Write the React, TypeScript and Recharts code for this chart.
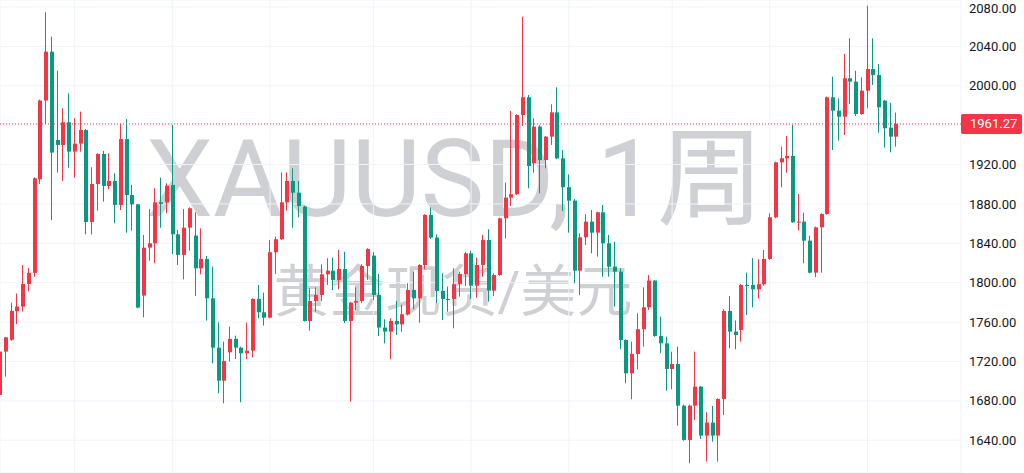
import React from 'react';
import { ComposedChart, Bar, XAxis, YAxis, CartesianGrid, ReferenceLine } from 'recharts';

// weekly XAUUSD candles (red = up, green = down)
const opens = [
  1686, 1730, 1742, 1771, 1775.7, 1798.7, 1810, 1905, 1985, 2034.6,
  1944.9, 1939.9, 1962.9, 1933.1, 1941.2, 1955.1, 1861.7, 1900.2, 1930.7, 1898.2,
  1903.3, 1879, 1945.9, 1889, 1879.6, 1786.9, 1835.6, 1840, 1881.6, 1881.6,
  1899.2, 1849.1, 1828.2, 1855.9, 1847.8, 1814.6, 1824.1, 1784.1, 1734, 1700.5,
  1729.3, 1742.9, 1734, 1728.3, 1731, 1783.5, 1769.9, 1764.5, 1830.9, 1844.1,
  1881.6, 1903.3, 1891.4, 1877.2, 1761.1, 1781.4, 1787.5, 1808.5, 1812.2, 1802.8,
  1813.9, 1761.1, 1779.7, 1781.4, 1817, 1827.5, 1787.5, 1754.4, 1750.3, 1761.1,
  1757.7, 1767.9, 1792.6, 1784.1, 1818, 1868.8, 1845.8, 1791.6, 1783.5, 1783.5,
  1798.4, 1808.8, 1829.8, 1797, 1818, 1843.4, 1791.9, 1807.8, 1865.4, 1886.4,
  1889.8, 1970.3, 1988.3, 1921.2, 1958.5, 1924.6, 1948.3, 1973, 1926.3, 1897,
  1883.3, 1812.2, 1846.1, 1862, 1850.8, 1871.5, 1840, 1816.3, 1811.2, 1741.8,
  1708, 1727.6, 1752.7, 1775, 1802.1, 1745.9, 1738.4, 1712.4, 1717.4, 1675.1,
  1640.3, 1675.1, 1694.4, 1644.7, 1657.9, 1644.7, 1681.9, 1771.3, 1750.3, 1752,
  1797.7, 1797.7, 1793.3, 1798.4, 1824.1, 1866.4, 1922.2, 1926.3, 1928.7, 1861.3,
  1862, 1842.7, 1810.2, 1856.2, 1869.8, 1988.3, 1974.7, 1968.6, 2007.6, 2004.2,
  1971.3, 1995, 2017, 2010.9, 1984.9, 1957.5, 1948.3,
];
const highs = [
  1732, 1745, 1779.7, 1789, 1818, 1815, 1907, 1986, 2074.6, 2049.9,
  2015.3, 1977.1, 1992.3, 1966.9, 1973.7, 1956, 1917.2, 1931.5, 1933.8, 1931.4,
  1911.1, 1961.2, 1966.2, 1899.2, 1880, 1848.5, 1874.9, 1895.8, 1906.7, 1900.9,
  1960.2, 1853.5, 1874.9, 1876.5, 1871.5, 1855.2, 1827.1, 1816.3, 1759.8, 1740.1,
  1755.4, 1746.2, 1735, 1759.4, 1784, 1797.7, 1789.9, 1843.4, 1846.8, 1912.1,
  1912.1, 1916.2, 1903.3, 1878, 1794.3, 1795.3, 1818.7, 1824.8, 1825.4, 1833.2,
  1831.5, 1780.5, 1795.3, 1818.7, 1835, 1830.9, 1808.8, 1762.8, 1763.8, 1781.4,
  1777.4, 1799.4, 1811.2, 1818.8, 1869.5, 1876.5, 1849.1, 1809.5, 1796, 1814.6,
  1811.2, 1830.9, 1832.5, 1825.4, 1848.5, 1854.2, 1809.5, 1866, 1901.6, 1974.4,
  1971, 2070.2, 1990.6, 1966.9, 1960.2, 1949, 1981.2, 1998.4, 1934.8, 1910,
  1885, 1850.2, 1869.5, 1873.8, 1872, 1878.9, 1848.5, 1841.7, 1814.6, 1742.5,
  1740.1, 1768.9, 1795.3, 1807.8, 1802.8, 1765.5, 1745.2, 1730, 1735.1, 1676,
  1676, 1730, 1695, 1668.4, 1674.8, 1682.6, 1773, 1786.5, 1761.5, 1798.5,
  1810.2, 1824.8, 1823.7, 1833.2, 1870.5, 1922.9, 1938.2, 1949, 1960.2, 1890.1,
  1871.1, 1847.8, 1856.9, 1870.5, 1989, 2009.2, 1987.2, 2032.3, 2048.2, 2015.3,
  2008.6, 2081.3, 2048.2, 2022.1, 1985.5, 1982.8, 1972.7,
];
const lows = [
  1685, 1704.6, 1741, 1758, 1770.6, 1791, 1806, 1900.3, 1961.2, 1863.7,
  1911.8, 1903.3, 1916.8, 1906.7, 1933.1, 1849.1, 1849, 1873.2, 1882.3, 1894.8,
  1860.3, 1873.8, 1850.8, 1852.9, 1774, 1764.8, 1822.4, 1819.7, 1855.9, 1870.5,
  1829.2, 1818, 1803.4, 1832.6, 1786.5, 1808.5, 1761.5, 1718.1, 1687.7, 1677.5,
  1719.8, 1722.5, 1678.5, 1722.2, 1724.2, 1763.8, 1756.4, 1763.8, 1808.8, 1843.4,
  1873.2, 1855.9, 1866.4, 1760.5, 1751.3, 1770.6, 1781.4, 1797.7, 1792.6, 1793.3,
  1758.8, 1679.2, 1772.3, 1779.1, 1802.8, 1782.4, 1745.9, 1738.4, 1722.2, 1746.9,
  1750.3, 1767.2, 1773, 1759.4, 1813.6, 1844.4, 1779.1, 1762.1, 1770.6, 1753.7,
  1785.8, 1796.7, 1783.5, 1784.8, 1806.1, 1780.8, 1786.5, 1807, 1845.1, 1877.9,
  1889, 1959.1, 1895.8, 1911.8, 1890.8, 1916.2, 1939.9, 1925.5, 1872.8, 1850.8,
  1799.4, 1787.5, 1838.3, 1829.8, 1826.5, 1806.1, 1806.1, 1775.7, 1732.4, 1697.8,
  1681.6, 1712, 1735.1, 1772.3, 1745, 1728.3, 1690.4, 1691.8, 1654.8, 1639.5,
  1616.6, 1660.6, 1641.3, 1618.3, 1638.6, 1618.3, 1665.7, 1733.4, 1732.4, 1740.1,
  1767.2, 1775, 1784.1, 1796.7, 1823.1, 1865.5, 1896.9, 1911.8, 1861, 1852.9,
  1819.7, 1809.5, 1805.5, 1810.2, 1869, 1934.8, 1944.2, 1950, 1981.5, 1969.3,
  1970.5, 1977.1, 2000.8, 1952.4, 1937.2, 1932.4, 1938.2,
];
const closes = [
  1730, 1744.5, 1771.3, 1775.7, 1798.7, 1810, 1906, 1985, 2034.6, 1932.1,
  1939.9, 1962.9, 1933.1, 1941.2, 1955.1, 1861.7, 1900.2, 1930.7, 1898.2, 1903.3,
  1879, 1945.9, 1889, 1879.6, 1774.7, 1835.6, 1840, 1881.6, 1879.9, 1898.5,
  1849.1, 1828.2, 1855.9, 1875.6, 1814.6, 1824.1, 1784.1, 1734, 1700.5, 1720.5,
  1742.9, 1734, 1728.3, 1731, 1783.5, 1769.9, 1764.5, 1830.9, 1844.1, 1881.6,
  1903.3, 1891.4, 1877.9, 1761.1, 1781.4, 1787.5, 1808.5, 1812.2, 1802.8, 1813.9,
  1761.1, 1779.7, 1781.4, 1817, 1834.2, 1787.5, 1754.4, 1750.3, 1761.1, 1757.7,
  1767.9, 1792.6, 1784.1, 1818, 1868.8, 1845.8, 1791.6, 1783.5, 1782.8, 1798.4,
  1808.8, 1829.8, 1797, 1818, 1843.4, 1791.9, 1807.8, 1865.4, 1886.4, 1889.8,
  1970.3, 1988.3, 1918.5, 1958.5, 1924.6, 1948.3, 1973, 1926.3, 1896.9, 1883.3,
  1812.2, 1846.1, 1862, 1850.8, 1871.5, 1840, 1816.3, 1811.2, 1741.8, 1708,
  1727.6, 1752.7, 1775, 1802.1, 1745.9, 1738.4, 1712.4, 1717.4, 1675.1, 1640.3,
  1675.1, 1694.4, 1644.7, 1657.9, 1644.7, 1681.9, 1771.3, 1750.3, 1746.9, 1797.7,
  1796.7, 1793.3, 1798.4, 1824.1, 1866.4, 1922.2, 1926.3, 1928.7, 1861.3, 1862,
  1842.7, 1810.2, 1856.2, 1869.8, 1988.3, 1974.7, 1968.6, 2007.6, 2004.2, 1971.3,
  1995, 2017, 2010.9, 1978.1, 1956.8, 1948.3, 1961.27,
];

// weeks where the time grid lines fall
const gridWeeks = [13, 30, 47, 65, 82, 99, 117, 134, 151];
const priceTicks = [1640, 1680, 1720, 1760, 1800, 1840, 1880, 1920, 1960, 2000, 2040, 2080];
const lastPrice = 1961.27;
const watermarkTitle = 'XAUUSD, 1周';
const watermarkSub = '黄金现货/美元';

const UP = '#F23645';
const DOWN = '#089981';
const FONT = 'Roboto, "Noto Sans CJK SC", sans-serif';

const data = opens.map((o, i) => ({ i, o, h: highs[i], l: lows[i], c: closes[i] }));

const Candle = (props: any) => {
  const { x, y, width, height, payload } = props;
  if (!payload) return null;
  const { o, h, l, c } = payload;
  const top = Math.min(y, y + height);
  const bottom = Math.max(y, y + height);
  const toY = (v: number) => top + ((h - v) / (h - l || 1)) * (bottom - top);
  const cx = Math.round(x + width / 2);
  const color = c >= o ? UP : DOWN;
  const bTop = toY(Math.max(o, c));
  const bBot = toY(Math.min(o, c));
  return (
    <g>
      <rect x={cx - 1} y={top} width={1} height={bottom - top} fill={color} />
      <rect x={cx - 2} y={bTop} width={4} height={Math.max(1, bBot - bTop)} fill={color} />
    </g>
  );
};

const PriceTag = (props: any) => {
  const vb = props.viewBox;
  if (!vb) return null;
  const x = vb.x + vb.width;
  return (
    <g>
      <rect x={x} y={vb.y - 10} width={61} height={20} rx={2} fill={UP} />
      <text x={x + 9} y={vb.y} dy={4.5} fill="#fff" fontSize={13} fontFamily={FONT}>
        {lastPrice.toFixed(2)}
      </text>
    </g>
  );
};

export default function App() {
  return (
    <div style={{ position: 'fixed', left: 0, top: 0, width: 1024, height: 473, background: '#fff', overflow: 'hidden' }}>
      <svg width={1024} height={473} style={{ position: 'absolute', left: 0, top: 0 }}>
        <text x={455} y={216} textAnchor="middle" fontFamily={FONT} fontSize={107} fill="#cfd0d4">
          {watermarkTitle}
        </text>
        <text x={453} y={311} textAnchor="middle" fontFamily={FONT} fontSize={56} fill="#cfd0d4">
          {watermarkSub}
        </text>
      </svg>
      <div style={{ position: 'absolute', left: 0, top: 0 }}>
        <ComposedChart width={1024} height={473} data={data} margin={{ top: 0, right: 0, bottom: 0, left: 0 }}>
          <CartesianGrid stroke="#f0f3fa" />
          <XAxis dataKey="i" type="number" domain={[0, 167.28]} ticks={gridWeeks} hide />
          <YAxis
            orientation="right"
            width={63}
            domain={[1606.7, 2087.1]}
            ticks={priceTicks}
            axisLine={false}
            tickLine={false}
            tick={{ fill: '#131722', fontSize: 13, fontFamily: FONT }}
            tickFormatter={(v: number) => (v === 1960 ? '' : v.toFixed(2))}
          />
          <Bar dataKey={(d: any) => [d.l, d.h]} shape={<Candle />} isAnimationActive={false} />
          <ReferenceLine y={lastPrice} stroke={UP} strokeDasharray="1 2" label={<PriceTag />} />
        </ComposedChart>
      </div>
    </div>
  );
}
